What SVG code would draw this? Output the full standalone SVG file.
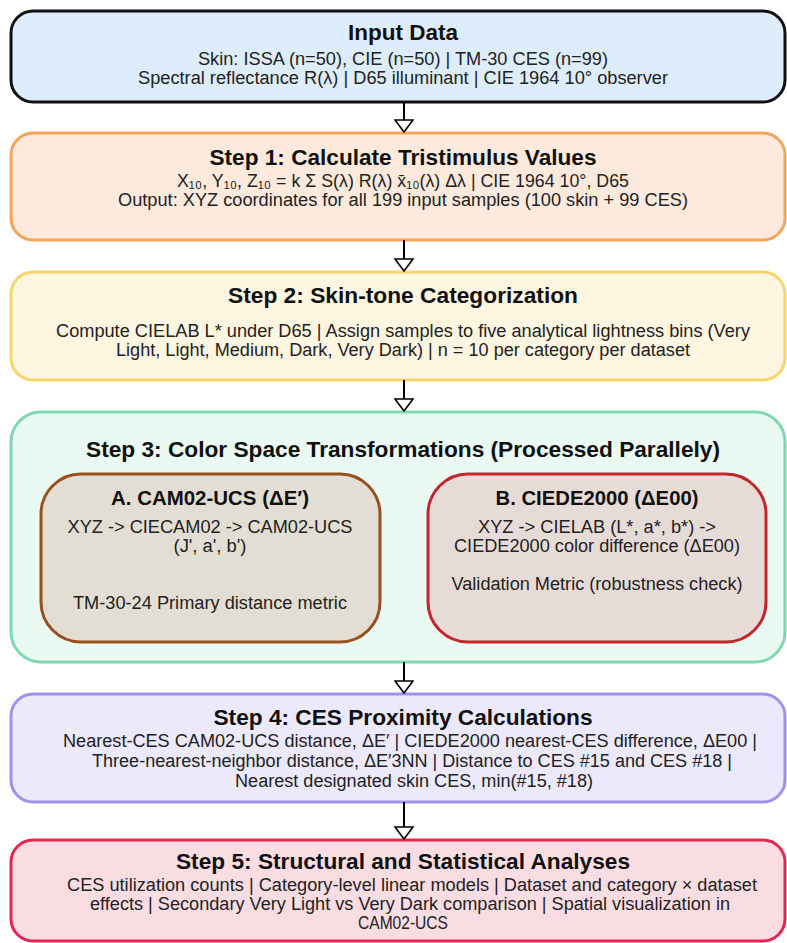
<svg xmlns="http://www.w3.org/2000/svg" width="787" height="943" viewBox="0 0 787 943">
<defs>
<marker id="arr" viewBox="0 0 14 20" refX="13" refY="10" markerWidth="14" markerHeight="20" markerUnits="userSpaceOnUse" orient="auto">
<path d="M1,1 L13,10 L1,19 Z" fill="#ffffff" stroke="#000000" stroke-width="1.6" stroke-linejoin="miter"/>
</marker>
<style>
text{font-family:"Liberation Sans",Arial,"DejaVu Sans",sans-serif;text-anchor:middle;}
.t{font-size:22px;font-weight:bold;fill:#111111;}
.st{font-size:20px;font-weight:bold;fill:#111111;}
.b{font-size:18px;fill:#222222;}
.box{stroke-width:3;}
.conn line{stroke:#000000;stroke-width:2;fill:none;}
</style>
</defs>
<rect width="787" height="943" fill="#ffffff"/>

<g id="input">
<rect class="box" x="11" y="11" width="774" height="91" rx="22" fill="#deedfb" stroke="#111111"/>
<text class="t" x="403" y="40" textLength="110" lengthAdjust="spacingAndGlyphs">Input Data</text>
<text class="b" x="403" y="65" textLength="410" lengthAdjust="spacingAndGlyphs">Skin: ISSA (n=50), CIE (n=50) | TM-30 CES (n=99)</text>
<text class="b" x="403" y="84" textLength="530" lengthAdjust="spacingAndGlyphs">Spectral reflectance R(λ) | D65 illuminant | CIE 1964 10° observer</text>
</g>

<g id="step1">
<rect class="box" x="11" y="133" width="774" height="107" rx="22" fill="#fdeadc" stroke="#f5a558"/>
<text class="t" x="403" y="165" textLength="387" lengthAdjust="spacingAndGlyphs">Step 1: Calculate Tristimulus Values</text>
<text class="b" x="403" y="187" textLength="452" lengthAdjust="spacingAndGlyphs">X₁₀, Y₁₀, Z₁₀ = k Σ S(λ) R(λ) x̄₁₀(λ) Δλ | CIE 1964 10°, D65</text>
<text class="b" x="403" y="206" textLength="570" lengthAdjust="spacingAndGlyphs">Output: XYZ coordinates for all 199 input samples (100 skin + 99 CES)</text>
</g>

<g id="step2">
<rect class="box" x="11" y="272" width="774" height="108" rx="22" fill="#fef6e1" stroke="#f8d56a"/>
<text class="t" x="403" y="303" textLength="350" lengthAdjust="spacingAndGlyphs">Step 2: Skin-tone Categorization</text>
<text class="b" x="403" y="337" textLength="694" lengthAdjust="spacingAndGlyphs">Compute CIELAB L* under D65 | Assign samples to five analytical lightness bins (Very</text>
<text class="b" x="403" y="356" textLength="574" lengthAdjust="spacingAndGlyphs">Light, Light, Medium, Dark, Very Dark) | n = 10 per category per dataset</text>
</g>

<g id="step3">
<rect class="box" x="11" y="412" width="774" height="250" rx="30" fill="#eaf9f2" stroke="#7ed8b2"/>
<text class="t" x="403" y="457" textLength="634" lengthAdjust="spacingAndGlyphs">Step 3: Color Space Transformations (Processed Parallely)</text>
</g>

<g id="step3a">
<rect class="box" x="41" y="474" width="339" height="168" rx="40" fill="#e3ded3" stroke="#97501f"/>
<text class="st" x="210" y="505" textLength="198" lengthAdjust="spacingAndGlyphs">A. CAM02-UCS (ΔE′)</text>
<text class="b" x="210" y="533" textLength="285" lengthAdjust="spacingAndGlyphs">XYZ -&gt; CIECAM02 -&gt; CAM02-UCS</text>
<text class="b" x="210" y="552" textLength="73" lengthAdjust="spacingAndGlyphs">(J', a', b')</text>
<text class="b" x="210" y="609" textLength="274" lengthAdjust="spacingAndGlyphs">TM-30-24 Primary distance metric</text>
</g>

<g id="step3b">
<rect class="box" x="428" y="474" width="338" height="168" rx="40" fill="#e7dbd8" stroke="#c2262c"/>
<text class="st" x="597" y="505" textLength="203" lengthAdjust="spacingAndGlyphs">B. CIEDE2000 (ΔE00)</text>
<text class="b" x="597" y="533" textLength="238" lengthAdjust="spacingAndGlyphs">XYZ -&gt; CIELAB (L*, a*, b*) -&gt;</text>
<text class="b" x="597" y="552" textLength="286" lengthAdjust="spacingAndGlyphs">CIEDE2000 color difference (ΔE00)</text>
<text class="b" x="597" y="590" textLength="291" lengthAdjust="spacingAndGlyphs">Validation Metric (robustness check)</text>
</g>

<g id="step4">
<rect class="box" x="11" y="694" width="774" height="108" rx="22" fill="#ebe9fb" stroke="#9e93ec"/>
<text class="t" x="403" y="725" textLength="379" lengthAdjust="spacingAndGlyphs">Step 4: CES Proximity Calculations</text>
<text class="b" x="410" y="747" textLength="694" lengthAdjust="spacingAndGlyphs">Nearest-CES CAM02-UCS distance, ΔE′ | CIEDE2000 nearest-CES difference, ΔE00 |</text>
<text class="b" x="412" y="767" textLength="640" lengthAdjust="spacingAndGlyphs">Three-nearest-neighbor distance, ΔE′3NN | Distance to CES #15 and CES #18 |</text>
<text class="b" x="414" y="787" textLength="358" lengthAdjust="spacingAndGlyphs">Nearest designated skin CES, min(#15, #18)</text>
</g>

<g id="step5">
<rect class="box" x="11" y="840" width="774" height="101" rx="22" fill="#fadde2" stroke="#e62650"/>
<text class="t" x="403" y="869" textLength="454" lengthAdjust="spacingAndGlyphs">Step 5: Structural and Statistical Analyses</text>
<text class="b" x="412" y="891" textLength="690" lengthAdjust="spacingAndGlyphs">CES utilization counts | Category-level linear models | Dataset and category × dataset</text>
<text class="b" x="410" y="910" textLength="640" lengthAdjust="spacingAndGlyphs">effects | Secondary Very Light vs Very Dark comparison | Spatial visualization in</text>
<text class="b" x="403" y="929" textLength="90" lengthAdjust="spacingAndGlyphs">CAM02-UCS</text>
</g>

<g id="connectors" class="conn">
<line x1="404" y1="102" x2="404" y2="132" marker-end="url(#arr)"/>
<line x1="404" y1="240" x2="404" y2="271" marker-end="url(#arr)"/>
<line x1="404" y1="380" x2="404" y2="411" marker-end="url(#arr)"/>
<line x1="404" y1="662" x2="404" y2="693" marker-end="url(#arr)"/>
<line x1="404" y1="802" x2="404" y2="839" marker-end="url(#arr)"/>
</g>
</svg>
